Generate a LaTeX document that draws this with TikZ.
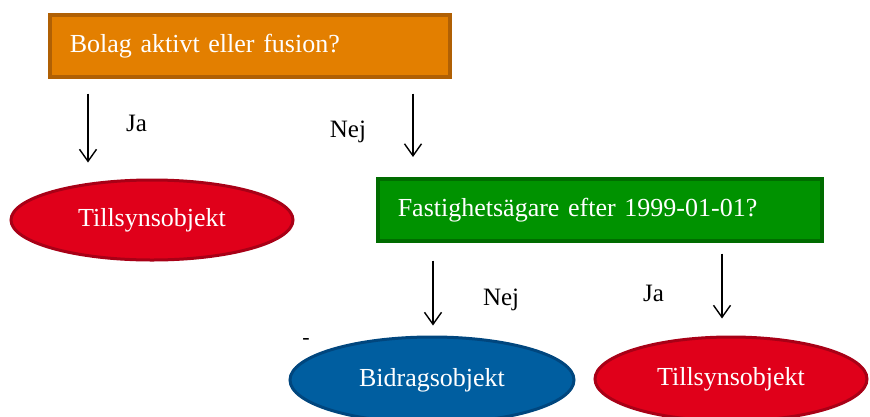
\documentclass[tikz,border=0pt]{standalone}
\usepackage{fontspec}
\setmainfont{Liberation Serif}
\usetikzlibrary{shapes.geometric,arrows.meta}

\definecolor{askorange}{RGB}{227,127,0}
\definecolor{askorangeb}{RGB}{176,96,4}
\definecolor{askgreen}{RGB}{0,146,0}
\definecolor{askgreenb}{RGB}{0,108,0}
\definecolor{objred}{RGB}{224,0,26}
\definecolor{objredb}{RGB}{168,0,22}
\definecolor{objblue}{RGB}{0,94,160}
\definecolor{objblueb}{RGB}{0,70,126}

\tikzset{
  question/.style={rectangle, draw=#1b, fill=#1, line width=3.5pt, text=white,
    anchor=north west, minimum height=62pt, inner ysep=0pt, inner xsep=20pt,
    align=left, font=\fontsize{26}{30}\selectfont},
  answer/.style={ellipse, draw=#1b, fill=#1, line width=3pt, text=white,
    minimum width=282pt, minimum height=80pt, inner sep=0pt,
    font=\fontsize{26}{30}\selectfont},
  flow/.style={-{Straight Barb[length=12pt,width=17pt]}, line width=1.4pt},
  choice/.style={font=\fontsize{25}{30}\selectfont}
}

\begin{document}
\begin{tikzpicture}[x=1pt,y=-1pt]
        \useasboundingbox (0,0) rectangle (870,416);

        % questions
        \node[question=askorange, text width=360pt] (q1) at (48,13) {Bolag aktivt eller fusion?};
        \node[question=askgreen, text width=404pt] (q2) at (376,177) {Fastighetsägare efter 1999-01-01?};

        % objects
        \node[answer=objred, yshift=-2pt] (tillsyn1) at (152,218) {Tillsynsobjekt};
        \node[answer=objblue, minimum width=284pt, minimum height=86pt, yshift=-2pt] (bidrag) at (432,378) {Bidragsobjekt};
        \node[answer=objred, minimum width=272pt, minimum height=84pt, yshift=-2pt] (tillsyn2) at (731,377) {Tillsynsobjekt};
        \node[font=\fontsize{22}{24}\selectfont] (streck) at (306,341) {-};

        % arrows
        \coordinate (a1) at (88,0);
        \coordinate (a2) at (413,0);
        \coordinate (a3) at (433,0);
        \coordinate (a4) at (722,0);
        \draw[flow, shorten <=15pt, shorten >=16pt] (a1 |- q1.south) -- (a1 |- tillsyn1.north) node[choice, midway, right=34pt, yshift=5pt]{Ja};
        \draw[flow, shorten <=15pt, shorten >=20pt] (a2 |- q1.south) -- (a2 |- q2.north) node[choice, midway, left=43pt, yshift=-4pt]{Nej};
        \draw[flow, shorten <=18pt, shorten >=10pt] (a3 |- q2.south) -- (a3 |- bidrag.north) node[choice, midway, right=46pt, yshift=-11pt]{Nej};
        \draw[flow, shorten <=11pt, shorten >=17pt] (a4 |- q2.south) -- (a4 |- tillsyn2.north) node[choice, midway, left=54pt, yshift=-4pt]{Ja};
\end{tikzpicture}
\end{document}
